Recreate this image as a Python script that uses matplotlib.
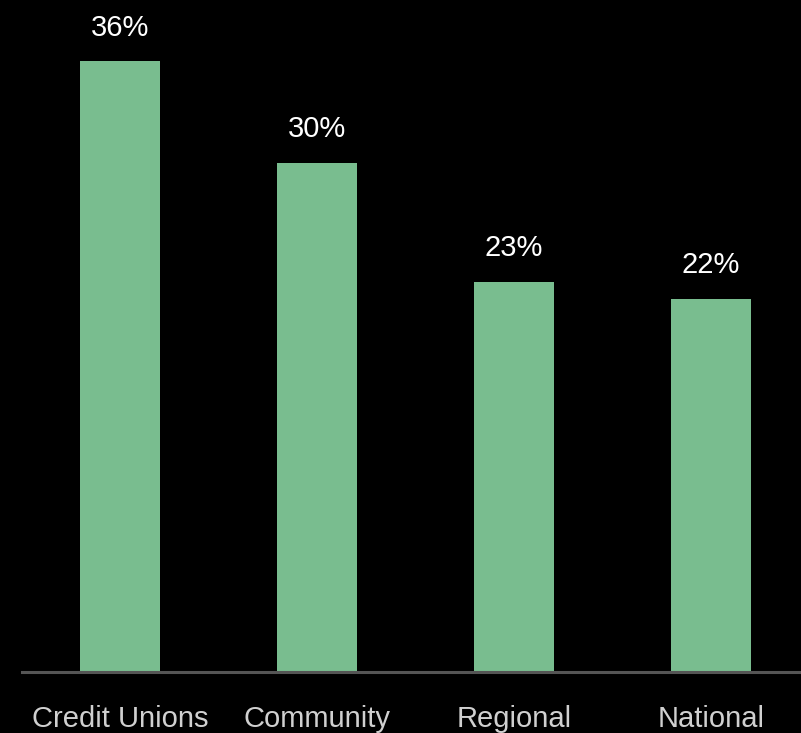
import matplotlib
matplotlib.use("Agg")
import matplotlib.pyplot as plt

categories = ["Credit Unions", "Community", "Regional", "National"]
shares = [36, 30, 23, 22]
value_labels = ["36%", "30%", "23%", "22%"]

BAR_COLOR = "#79bd8f"
BG = "#000000"

fig = plt.figure(figsize=(8.01, 7.33), dpi=100, facecolor=BG)
# axes spans slightly beyond the right edge so the baseline runs off the figure
ax = fig.add_axes([21.5 / 801, 61 / 733, 788 / 801, 645 / 733], facecolor=BG)

x = list(range(len(categories)))
ax.bar(x, shares, width=0.405, color=BAR_COLOR, zorder=2)

ax.set_xlim(-0.5, 3.5)
ax.set_ylim(0, 38)

for xi, v, lab in zip(x, shares, value_labels):
    ax.annotate(lab, (xi, v), xytext=(0, 14), textcoords="offset points",
                ha="center", va="bottom", color="white", fontsize=21,
                family="Liberation Sans", clip_on=False)

for s in ["top", "right", "left"]:
    ax.spines[s].set_visible(False)
ax.spines["bottom"].set_color("#555555")
ax.spines["bottom"].set_linewidth(2.2)

ax.set_yticks([])
ax.set_xticks(x)
ax.set_xticklabels(categories, color="#d0d0d0", fontsize=21,
                   family="Liberation Sans")
ax.tick_params(axis="x", length=0, pad=24)

fig.savefig("out.png", dpi=100, facecolor=BG)
